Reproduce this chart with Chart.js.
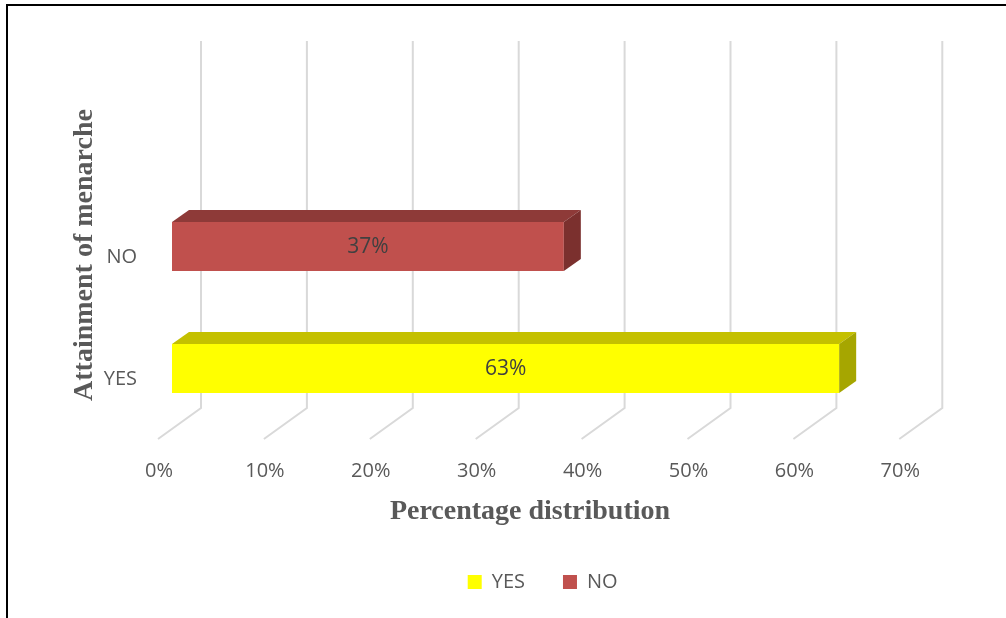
<!DOCTYPE html>
<html>
<head>
<meta charset="utf-8">
<title>Attainment of menarche</title>
<script src="https://cdn.jsdelivr.net/npm/chart.js@4.4.1/dist/chart.umd.min.js"></script>
<style>
    html, body { margin: 0; padding: 0; background: #fff; overflow: hidden; }
    .frame { position: absolute; left: 6px; top: 4px; width: 1100px; height: 700px; border-top: 2px solid #000; border-left: 2px solid #000; }
    .wrap { position: absolute; left: 0; top: 0; width: 1006px; height: 618px; }
</style>
</head>
<body>
<div class="frame"></div>
<div class="wrap"><canvas id="chart"></canvas></div>
<script>
// data
const categories = ['YES', 'NO'];
const percentValues = [63, 37];
const xTicks = [0, 10, 20, 30, 40, 50, 60, 70];

// face colours per bar: front, top, right side
const frontColors = ['#FFFF00', '#C0504D'];
const topColors = ['#C4C000', '#8E3A38'];
const sideColors = ['#A6A600', '#7B302E'];

// 3d offsets (px)
const BAR_DEPTH = { dx: 17, dy: -12 };
const WALL = { dx: 29, dy: -21.5 };
const FLOOR_FRONT = { dx: -14, dy: 9.5 };
const WALL_TOP = 41;

const textGray = '#595959';

const depthPlugin = {
    id: 'depth3d',
    beforeDatasetsDraw(chart) {
        const { ctx, chartArea, scales: { x } } = chart;
        ctx.save();
        ctx.strokeStyle = '#D9D9D9';
        ctx.lineWidth = 2;
        xTicks.forEach(v => {
            const px = x.getPixelForValue(v);
            ctx.beginPath();
            ctx.moveTo(px + WALL.dx, WALL_TOP);
            ctx.lineTo(px + WALL.dx, chartArea.bottom + WALL.dy);
            ctx.lineTo(px + FLOOR_FRONT.dx, chartArea.bottom + FLOOR_FRONT.dy);
            ctx.stroke();
        });
        ctx.restore();
    },
    afterDatasetsDraw(chart) {
        const { ctx } = chart;
        const meta = chart.getDatasetMeta(0);
        ctx.save();
        meta.data.forEach((bar, i) => {
            const { x, y, base, height } = bar.getProps(['x', 'y', 'base', 'height'], true);
            const top = y - height / 2;
            const bottom = y + height / 2;

            // top face
            ctx.fillStyle = topColors[i];
            ctx.beginPath();
            ctx.moveTo(base, top);
            ctx.lineTo(base + BAR_DEPTH.dx, top + BAR_DEPTH.dy);
            ctx.lineTo(x + BAR_DEPTH.dx, top + BAR_DEPTH.dy);
            ctx.lineTo(x, top);
            ctx.closePath();
            ctx.fill();

            // end face
            ctx.fillStyle = sideColors[i];
            ctx.beginPath();
            ctx.moveTo(x, top);
            ctx.lineTo(x + BAR_DEPTH.dx, top + BAR_DEPTH.dy);
            ctx.lineTo(x + BAR_DEPTH.dx, bottom + BAR_DEPTH.dy);
            ctx.lineTo(x, bottom);
            ctx.closePath();
            ctx.fill();

            // value label
            ctx.fillStyle = '#404040';
            ctx.font = '21px "Open Sans"';
            ctx.textAlign = 'center';
            ctx.textBaseline = 'middle';
            ctx.fillText(percentValues[i] + '%', (base + x) / 2, y + 1);
        });
        ctx.restore();
    },
    afterDraw(chart) {
        const { ctx } = chart;
        ctx.save();
        ctx.fillStyle = textGray;
        ctx.font = 'bold 28px "Liberation Serif"';
        ctx.textAlign = 'center';
        ctx.textBaseline = 'alphabetic';
        ctx.fillText('Percentage distribution', 530, 519);

        ctx.translate(92, 255);
        ctx.rotate(-Math.PI / 2);
        ctx.fillText('Attainment of menarche', 0, 0);
        ctx.restore();
    }
};

new Chart(document.getElementById('chart'), {
    type: 'bar',
    data: {
        labels: categories,
        datasets: [{
            data: percentValues,
            backgroundColor: frontColors,
            borderWidth: 0,
            categoryPercentage: 1,
            barPercentage: 0.4
        }]
    },
    options: {
        indexAxis: 'y',
        responsive: true,
        maintainAspectRatio: false,
        animation: false,
        events: [],
        layout: { padding: { top: 185.5, right: 92.7, bottom: 16, left: 0 } },
        plugins: {
            tooltip: { enabled: false },
            legend: {
                position: 'bottom',
                fullSize: false,
                labels: {
                    boxWidth: 14,
                    boxHeight: 14,
                    padding: 38,
                    color: textGray,
                    font: { family: '"Open Sans"', size: 20 },
                    generateLabels: () => categories.map((c, i) => ({
                        text: c,
                        fillStyle: frontColors[i],
                        strokeStyle: frontColors[i],
                        lineWidth: 0,
                        fontColor: textGray,
                        hidden: false,
                        index: i
                    }))
                }
            }
        },
        scales: {
            x: {
                min: 0,
                max: 70,
                afterFit: s => { s.height = 104.5; },
                afterBuildTicks: s => { s.ticks = xTicks.map(v => ({ value: v })); },
                grid: { display: false, drawTicks: false },
                border: { display: false },
                ticks: {
                    padding: 30,
                    labelOffset: -13,
                    color: textGray,
                    font: { family: '"Open Sans"', size: 20 },
                    callback: v => v + '%'
                }
            },
            y: {
                reverse: true,
                afterFit: s => { s.width = 172; },
                grid: { display: false, drawTicks: false },
                border: { display: false },
                ticks: {
                    padding: 35,
                    labelOffset: 10.5,
                    color: textGray,
                    font: { family: '"Open Sans"', size: 20 }
                }
            }
        }
    },
    plugins: [depthPlugin]
});
</script>
</body>
</html>
